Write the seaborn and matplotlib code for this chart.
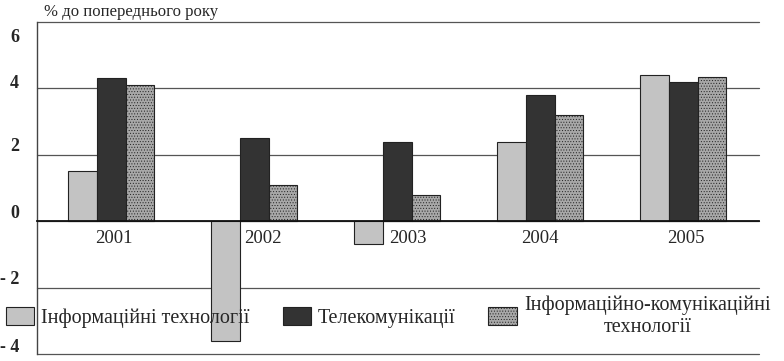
import pandas as pd
import matplotlib.pyplot as plt
import matplotlib.transforms as mtransforms
import seaborn as sns

# ==================== DATA ====================
years = ['2001', '2002', '2003', '2004', '2005']
series_names = ['Інформаційні технології', 'Телекомунікації',
                'Інформаційно-комунікаційні\nтехнології']
it_values = [1.5, -3.6, -0.7, 2.4, 4.4]
telecom_values = [4.3, 2.5, 2.4, 3.8, 4.2]
ict_values = [4.1, 1.1, 0.8, 3.2, 4.35]
y_ticks = [-4, -2, 0, 2, 4, 6]
y_tick_labels = ['- 4', '- 2', '0', '2', '4', '6']
# ==============================================

rows = []
for name, vals in zip(series_names, [it_values, telecom_values, ict_values]):
    for yr, v in zip(years, vals):
        rows.append({'Рік': yr, 'Значення': v, 'Серія': name})
df = pd.DataFrame(rows)

sns.set_style('white')
plt.rcParams['font.family'] = ['Liberation Serif', 'DejaVu Serif']
plt.rcParams['hatch.linewidth'] = 0.4
plt.rcParams['hatch.color'] = '#444444'

colors = ['#c3c3c3', '#333333', '#a8a8a8']

fig = plt.figure(figsize=(7.84, 3.61), dpi=100)
ax = fig.add_axes([37 / 784, 7 / 361, (759 - 37) / 784, (354 - 22) / 361])

sns.barplot(data=df, x='Рік', y='Значення', hue='Серія', palette=colors,
            width=0.6, edgecolor='#222222', linewidth=0.8, legend=False,
            saturation=1, ax=ax)

for patch in ax.containers[2]:
    patch.set_hatch('......')

ax.set_xlim(-0.52, 4.53)
ax.set_ylim(-4, 6)
ax.set_yticks(y_ticks)
ax.set_yticklabels(y_tick_labels, fontsize=13, fontweight='bold')
ax.tick_params(axis='y', length=0, pad=13)


def shift(lab, dx, dy):
    lab.set_transform(lab.get_transform() +
                      mtransforms.ScaledTranslation(dx / 100, dy / 100, fig.dpi_scale_trans))


# the scanned original has its y labels sitting a little above the lines
label_shift_px = {'- 4': 9, '- 2': 10, '0': 10, '2': 10, '4': 7, '6': -13}
for lab in ax.get_yticklabels():
    shift(lab, 0, label_shift_px.get(lab.get_text(), 0))

# horizontal grid lines
ax.yaxis.grid(True, color='#555555', linewidth=0.9)
ax.set_axisbelow(True)
for gl in ax.yaxis.get_gridlines():
    gl.set_clip_on(False)

# x axis on the zero line, ticks between year groups
ax.spines['bottom'].set_position(('data', 0))
ax.spines['bottom'].set_color('#111111')
ax.spines['bottom'].set_linewidth(1.3)
ax.spines['bottom'].set_zorder(3)
ax.spines['left'].set_color('#444444')
ax.spines['left'].set_linewidth(1.0)
ax.spines['right'].set_visible(False)
ax.spines['top'].set_visible(False)

ax.set_xticks([x + 0.5 for x in range(len(years))])
ax.set_xticklabels([])
ax.set_xticks(range(len(years)), minor=True)
ax.set_xticklabels(years, minor=True, fontsize=13.5)
ax.tick_params(axis='x', which='major', direction='inout', length=7,
               width=0.9, color='#222222')
ax.tick_params(axis='x', which='minor', length=0, pad=6)
ax.set_xlabel('')
ax.set_ylabel('')

# year labels nudged off the negative bars, as in the original
year_shift_px = {'2001': 3, '2002': 9, '2003': 11, '2004': 0, '2005': 3}
for lab in ax.get_xticklabels(minor=True):
    shift(lab, year_shift_px.get(lab.get_text(), 0), 0)

fig.text(44 / 784, 1 - 12 / 361, '% до попереднього року', fontsize=12,
         va='center', ha='left')

fig.legend(ax.containers, series_names, loc='center left',
           bbox_to_anchor=(0 / 784, 1 - 316 / 361), ncol=3, frameon=False,
           fontsize=14.5, handlelength=1.4, handleheight=1.0,
           handletextpad=0.36, columnspacing=1.62, borderpad=0.3,
           borderaxespad=0.0)
for t in fig.legends[0].get_texts():
    t.set_multialignment('center')

fig.savefig('out.png', dpi=100)
